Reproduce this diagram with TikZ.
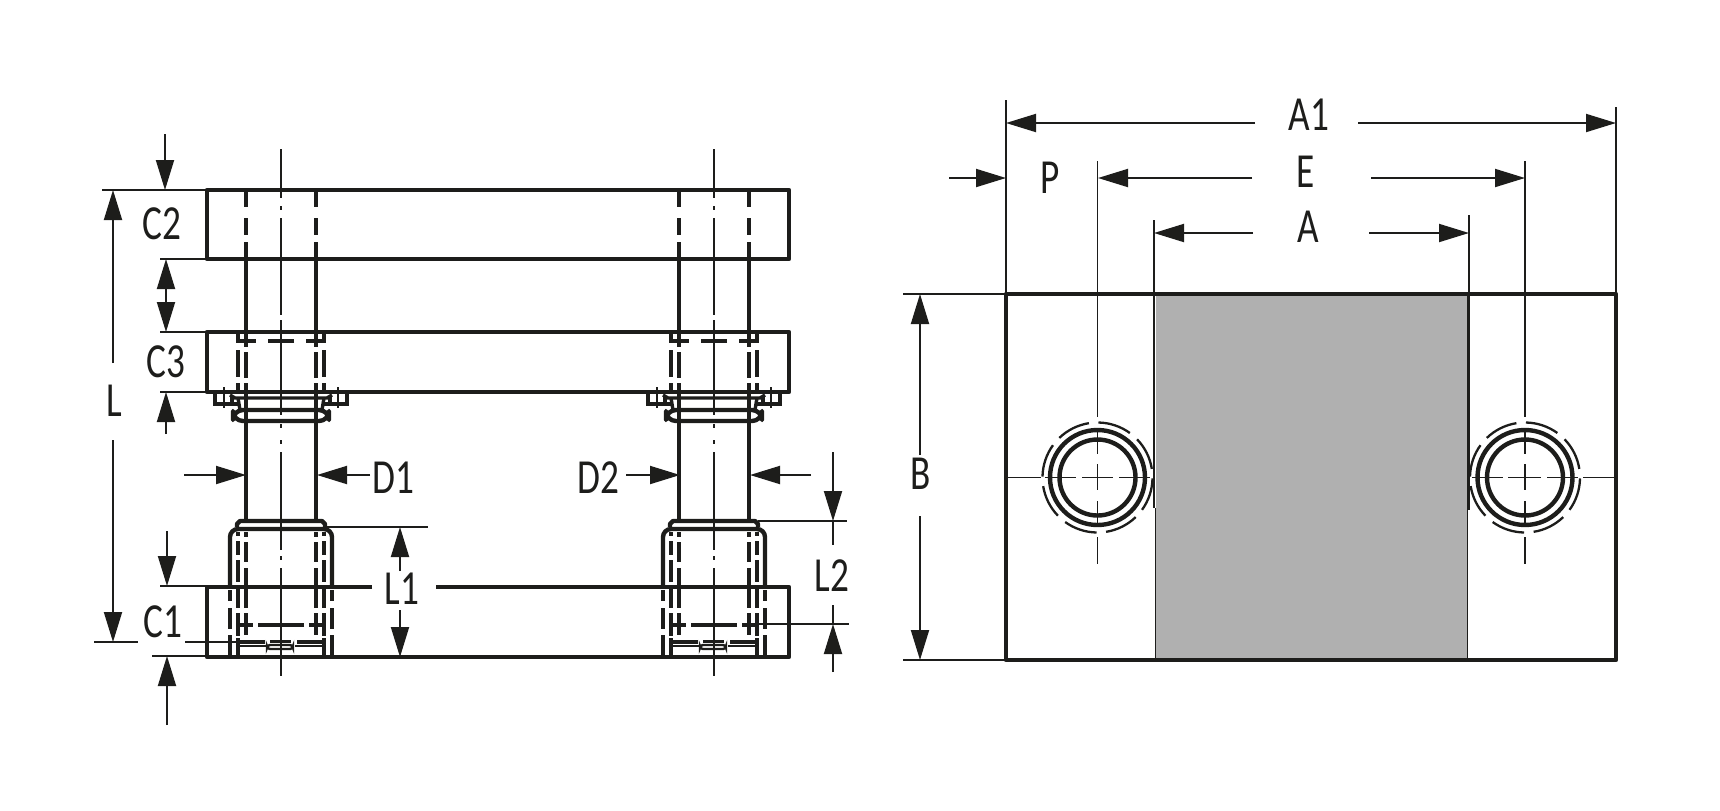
\documentclass[tikz,border=0pt]{standalone}
\usepackage{fontspec}
\setmainfont[FakeStretch=0.76]{Carlito}
\usetikzlibrary{arrows.meta}
\definecolor{ink}{HTML}{1D1D1B}
\definecolor{diefill}{HTML}{B0B0B0}
\tikzset{
	outline/.style={ink, line width=2.2pt, line join=round},
	hidden/.style={ink, line width=1.7pt},
	crossdash/.style={ink, line width=1.6pt},
	thinline/.style={ink, line width=0.95pt},
	dimarrow/.style={thinline, -{Triangle[length=15pt, width=9pt]}},
	dimlabel/.style={text=ink, inner sep=0pt, font=\fontsize{24.5}{26}\selectfont},
}
\begin{document}
\begin{tikzpicture}[x=0.5pt, y=-0.5pt]
	\useasboundingbox (0,0) rectangle (1720,810);
	
	% plates, left view
	\draw[outline] (207,190) rectangle (789,259);
	\draw[outline] (207,332) rectangle (789,392);
	\draw[outline] (372,587) -- (207,587) -- (207,657) -- (789,657) -- (789,587) -- (436,587);
	
	% both guide columns
	\foreach \cx in {281,714} {
		\begin{scope}[shift={(\cx,0)}]
			\foreach \a/\b in {149/198,206/210,218/315,320/415,424/428,440/444,452/550,556/560,568/676}
				\draw[thinline] (0,\a) -- (0,\b);
			\foreach \s in {-1,1} {
				\begin{scope}[xscale=\s]
					\draw[outline] (35,259) -- (35,332);
					\draw[outline] (35,392) -- (35,521);
					\foreach \a/\b in {192/207,218/235,242/259}
						\draw[hidden] (35,\a) -- (35,\b);
					% bush in the middle plate
					\foreach \a/\b in {332/347,352/378,383/392}
						\draw[hidden] (35,\a) -- (35,\b);
					\foreach \a/\b in {333/343,350/377,383/392}
						\draw[hidden] (43,\a) -- (43,\b);
					\draw[crossdash] (44,341) -- (25,341);
					\draw[crossdash] (13,341) -- (0,341);
					% flange under the middle plate
					\draw[hidden] (66,392) -- (66,404) -- (41,404);
					\draw[hidden] (49,397) -- (49,404);
					\draw[thinline] (57,387) -- (57,408);
					\draw[hidden] (51,395) -- (46,398) -- (0,398);
					\draw[hidden] (43,398) -- (41,410);
					% bush in the bottom plate
					\foreach \a/\b in {590/601,608/629,635/657}
						\draw[hidden] (51,\a) -- (51,\b);
					\foreach \a/\b in {532/536,541/555,560/582,588/608,613/636,638/657}
						\draw[hidden] (43,\a) -- (43,\b);
					\foreach \a/\b in {532/537,542/562,568/608,613/635}
						\draw[hidden] (35,\a) -- (35,\b);
					\draw[crossdash] (43,625) -- (28,625);
					\draw[crossdash] (23,625) -- (0,625);
					\draw[crossdash] (41,642) -- (16,642);
					\draw[ink, line width=0.6pt] (41,646) -- (14,646);
				\end{scope}
			}
			\draw[outline, rounded corners=5] (-48,410) rectangle (48,421);
			\draw[outline] (-44,527) -- (-44,524) -- (-41,521) -- (41,521) -- (44,524) -- (44,527);
			\draw[outline, rounded corners=4] (-51,587) -- (-51,529) -- (51,529) -- (51,587);
			\draw[crossdash] (-11,641.5) -- (10,641.5);
			\draw[ink, line width=1.2pt, rounded corners=1.5] (-14,645) rectangle (12,649);
		\end{scope}
	}
	
	% extension lines, left view
	\draw[thinline] (102,190) -- (207,190);
	\draw[thinline] (160,259) -- (207,259);
	\draw[thinline] (160,332) -- (207,332);
	\draw[thinline] (160,392) -- (207,392);
	\draw[thinline] (160,586) -- (207,586);
	\draw[thinline] (152,656) -- (207,656);
	\draw[thinline] (94,642) -- (138,642);
	\draw[thinline] (185,642) -- (240,642);
	\draw[thinline] (325,527) -- (428,527);
	\draw[thinline] (758,521) -- (847,521);
	\draw[thinline] (757,624) -- (849,624);
	
	% dimension arrows, left view
	\draw[dimarrow] (165,134) -- (165,190);
	\draw[dimarrow] (113,363) -- (113,190);
	\draw[dimarrow] (113,440) -- (113,642);
	\draw[dimarrow] (166,296) -- (166,259);
	\draw[dimarrow] (166,296) -- (166,332);
	\draw[dimarrow] (166,434) -- (166,392);
	\draw[dimarrow] (184,475) -- (246,475);
	\draw[dimarrow] (370,475) -- (317,475);
	\draw[dimarrow] (626,475) -- (680,475);
	\draw[dimarrow] (811,475) -- (750,475);
	\draw[dimarrow] (167,531) -- (167,586);
	\draw[dimarrow] (167,725) -- (167,656);
	\draw[dimarrow] (400,571) -- (400,527);
	\draw[dimarrow] (400,610) -- (400,657);
	\draw[dimarrow] (833,452) -- (833,521);
	\draw[thinline] (833,521) -- (833,545);
	\draw[dimarrow] (833,672) -- (833,624);
	\draw[thinline] (833,605) -- (833,624);
	
	\node[dimlabel] (lblCtwo) at (162,224) {C2};
	\node[dimlabel] (lblCthree) at (166,362) {C3};
	\node[dimlabel] (lblL) at (114,401) {L};
	\node[dimlabel] (lblDone) at (393,478) {D1};
	\node[dimlabel] (lblLone) at (402,589) {L1};
	\node[dimlabel] (lblCone) at (163,622) {C1};
	\node[dimlabel] (lblDtwo) at (598,478) {D2};
	\node[dimlabel] (lblLtwo) at (832,576) {L2};
	
	% right view
	\fill[diefill] (1155.5,294) rectangle (1467,659);
	\draw[ink, line width=0.5pt] (1155,508) -- (1155,659);
	\draw[ink, line width=0.5pt] (1467.5,510) -- (1467.5,659);
	\draw[ink, line width=1.2pt] (1154,294) -- (1154,508);
	\draw[ink, line width=1.4pt] (1468.5,294) -- (1468.5,510);
	\draw[outline] (1006,294) rectangle (1616,660);
	
	\foreach \cx in {1097.5,1525} {
		\draw[outline] (\cx,477.5) circle [radius=38];
		\draw[outline] (\cx,477.5) circle [radius=47.5];
		\foreach \k in {0,...,7}
			\draw[ink, line width=1.15pt] ({\cx+55*cos(9+45*\k)},{477.5-55*sin(9+45*\k)}) arc [start angle={-9-45*\k}, delta angle=-35, radius=55];
		\foreach \a/\b in {428/454,464/490,501/526,537/564}
			\draw[thinline] (\cx,\a) -- (\cx,\b);
		\draw[thinline] (\cx,161) -- (\cx,417);
	}
	\foreach \a/\b in {1006/1041,1045/1076,1082/1113,1119/1150,1472/1503,1508/1541,1547/1578,1583/1615}
		\draw[thinline] (\a,477.5) -- (\b,477.5);
	
	% extension lines, right view
	\draw[thinline] (1006,100) -- (1006,294);
	\draw[thinline] (1616,107) -- (1616,294);
	\draw[thinline] (1154,220) -- (1154,294);
	\draw[thinline] (1469,215) -- (1469,294);
	\draw[thinline] (903,294) -- (1006,294);
	\draw[thinline] (903,660) -- (1006,660);
	
	% dimension arrows, right view
	\draw[dimarrow] (1255,123) -- (1006,123);
	\draw[dimarrow] (1358,123) -- (1616,123);
	\draw[dimarrow] (1252,178) -- (1098,178);
	\draw[dimarrow] (1371,178) -- (1525,178);
	\draw[dimarrow] (949,178) -- (1006,178);
	\draw[dimarrow] (1253,233) -- (1154,233);
	\draw[dimarrow] (1369,233) -- (1469,233);
	\draw[dimarrow] (920,455) -- (920,294);
	\draw[dimarrow] (920,516) -- (920,660);
	
	\node[dimlabel] (lblAone) at (1309,115) {A1};
	\node[dimlabel] (lblE) at (1306,172) {E};
	\node[dimlabel] (lblA) at (1308,227) {A};
	\node[dimlabel] (lblP) at (1050,178) {P};
	\node[dimlabel] (lblB) at (921,474) {B};
\end{tikzpicture}
\end{document}
